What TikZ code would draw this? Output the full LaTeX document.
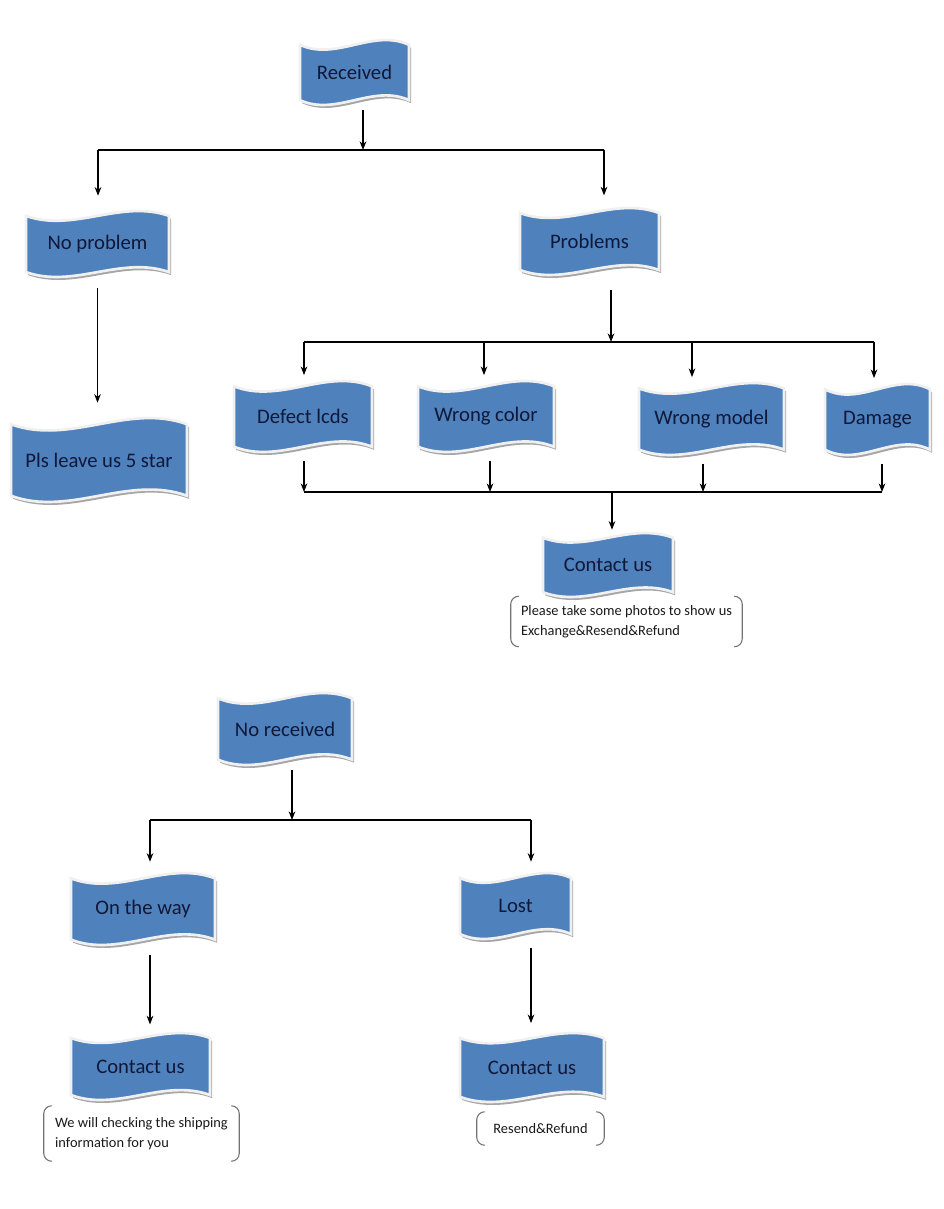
\documentclass[tikz,border=0pt]{standalone}
\usepackage{fontspec}
\setmainfont{Carlito}
\usetikzlibrary{arrows.meta,backgrounds}
\definecolor{bannerblue}{RGB}{79,129,189}
\definecolor{bannertext}{RGB}{16,24,56}
\newcommand\wavepath{(-\wW,-\wH) .. controls ({-\wW/3},{-0.4*\wH}) and ({\wW/3},{-1.6*\wH}) .. (\wW,-\wH)
  -- (\wW,\wH) .. controls ({\wW/3},{0.4*\wH}) and ({-\wW/3},{1.6*\wH}) .. (-\wW,\wH) -- cycle}
\newcommand\wavenode[5]{%
  \pgfmathsetmacro\wW{#3/2-3}\pgfmathsetmacro\wH{(#4/2-3)/1.174}
  \node[banner,minimum width=#3*0.75pt,minimum height=#4*0.75pt] (#1) at (#2) {#5};
  \begin{pgfonlayer}{background}
    \begin{scope}[shift={(#2)}]
      \fill[black!35,shift={(2,3)}] \wavepath;
      \draw[fill=bannerblue,draw=black!6,line width=2pt] \wavepath;
    \end{scope}
  \end{pgfonlayer}}
\newcommand\brackets[1]{%
  \draw[bracket] ([xshift=6pt]#1.north west) -- (#1.north west) -- (#1.south west) -- ([xshift=6pt]#1.south west);
  \draw[bracket] ([xshift=-6pt]#1.north east) -- (#1.north east) -- (#1.south east) -- ([xshift=-6pt]#1.south east);}
\begin{document}
\begin{tikzpicture}
        [x=0.75pt,y=-0.75pt,
        banner/.style={inner sep=0pt,text=bannertext,font=\fontsize{15.5}{18}\selectfont},
        note/.style={inner xsep=0pt,inner ysep=0pt,align=left,text=black!90,font=\fontsize{10.8}{15}\selectfont},
        bracket/.style={draw=black!55,line width=0.8pt,rounded corners=6pt},
        arr/.style={line width=0.8pt,-{Stealth[length=6.5pt,width=5pt]}},
        line/.style={line width=0.8pt}]
        \useasboundingbox (0,0) rectangle (944,1209);
        % received branch
        \wavenode{rec}{354.5,72.5}{115}{71}{Received}
        \wavenode{nop}{97.5,244}{149}{72}{No problem}
        \wavenode{prob}{589.5,241.5}{145}{73}{Problems}
        \wavenode{star}{99,460}{182}{90}{Pls leave us 5 star}
        \wavenode{lcd}{303,416.5}{144}{77}{Defect lcds}
        \wavenode{color}{486,416.5}{142}{77}{Wrong color}
        \wavenode{model}{711.5,419}{151}{78}{Wrong model}
        \wavenode{damage}{877.5,419.5}{111}{77}{Damage}
        \wavenode{contactA}{608,565}{136}{70}{Contact us}
        \node[note,minimum width=231*0.75pt,minimum height=50*0.75pt] (infoA) at (626.5,621.5)
          {Please take some photos to show us\\Exchange\&Resend\&Refund};
        \brackets{infoA}
        \coordinate (j0) at (363,150);
        \coordinate (jl) at (98,150);
        \coordinate (jr) at (604,150);
        \draw[arr,shorten <=1.5pt] (rec.south -| j0) -- (j0);
        \draw[line] (jl) -- (jr);
        \draw[arr,shorten >=9pt] (jl) -- (jl |- nop.north);
        \draw[arr,shorten >=7pt] (jr) -- (jr |- prob.north);
        \draw[arr,shorten <=6pt,shorten >=9pt] (nop.south) -- (star.north -| nop.south);
        \coordinate (m0) at (611,342);
        \coordinate (ml) at (304,342);
        \coordinate (mr) at (874,342);
        \draw[arr,shorten <=9pt] (prob.south -| m0) -- (m0);
        \draw[line] (ml) -- (mr);
        \foreach \x/\n in {304/lcd,484/color,692/model,874/damage}{
          \coordinate (d\n) at (\x,342);
          \draw[arr,shorten >=2pt] (d\n) -- (d\n |- \n.north);
        }
        \foreach \x/\n in {304/lcd,490/color,703/model,882/damage}{
          \coordinate (e\n) at (\x,492);
          \draw[arr,shorten <=4pt] (\n.south -| e\n) -- (e\n);
        }
        \draw[line] (elcd) -- (edamage);
        \coordinate (e0) at (612,492);
        \draw[arr] (e0) -- (e0 |- contactA.north);
        % not received branch
        \wavenode{norec}{285,729}{140}{78}{No received}
        \wavenode{way}{143,909}{150}{78}{On the way}
        \wavenode{lost}{515.5,906}{117}{72}{Lost}
        \wavenode{contactB}{140.5,1066.5}{145}{73}{Contact us}
        \wavenode{contactC}{532,1067.5}{150}{75}{Contact us}
        \node[note,minimum width=195*0.75pt,minimum height=55*0.75pt] (infoB) at (141.5,1133.5)
          {We will checking the shipping\\information for you};
        \brackets{infoB}
        \node[note,minimum width=127*0.75pt,minimum height=33*0.75pt] (infoC) at (540.5,1128.5)
          {Resend\&Refund};
        \brackets{infoC}
        \coordinate (k0) at (292,820);
        \coordinate (kl) at (150,820);
        \coordinate (kr) at (531,820);
        \draw[arr,shorten <=1.5pt] (norec.south -| k0) -- (k0);
        \draw[line] (kl) -- (kr);
        \draw[arr,shorten >=6pt] (kl) -- (kl |- way.north);
        \draw[arr,shorten >=6pt] (kr) -- (kr |- lost.north);
        \draw[arr,shorten <=5pt,shorten >=4pt] (way.south -| kl) -- (contactB.north -| kl);
        \draw[arr,shorten <=4.5pt,shorten >=5pt] (lost.south -| kr) -- (contactC.north -| kr);
\end{tikzpicture}
\end{document}
